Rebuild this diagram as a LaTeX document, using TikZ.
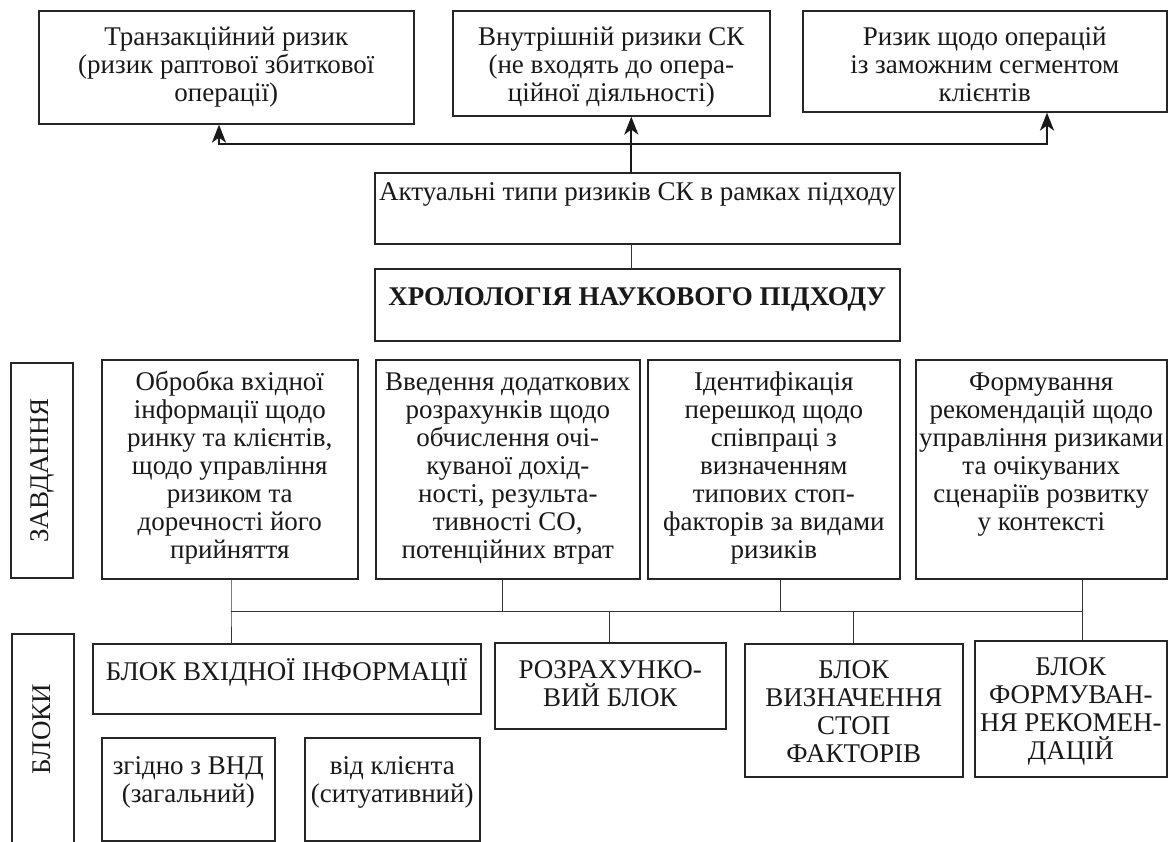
\documentclass[tikz,border=0pt]{standalone}
\usepackage{fontspec}
\setmainfont{Liberation Serif}
\usetikzlibrary{arrows.meta}
\newcommand{\boxtxt}[4]{\parbox[t][#2][t]{#1}{\centering\rule{0pt}{#3}#4}}
\begin{document}
\begin{tikzpicture}[x=1pt,y=-1pt,
  txt/.style={font=\fontsize{27}{28}\selectfont, text=black!90},
  box/.style={txt, draw=black!85, line width=1.6pt, inner sep=0pt, anchor=north west},
  lbl/.style={txt, draw=black!85, line width=1.6pt, inner sep=0pt, rotate=90},
  conn/.style={draw=black!80, line width=0.9pt},
  arr/.style={draw=black!90, line width=2.2pt, line join=miter}]
\fill[white] (0,0) rectangle (1170,842);
\useasboundingbox (0,0) rectangle (1170,842);
\clip (0,0) rectangle (1170,842);
% top row
\node[box] (t1) at (38,10) {\boxtxt{375pt}{113pt}{35pt}{Транзакційний ризик\\(ризик раптової збиткової\\операції)}};
\node[box] (t2) at (452,10) {\boxtxt{317pt}{105pt}{35pt}{Внутрішній ризики СК\\(не входять до опера-\\ційної діяльності)}};
\node[box] (t3) at (802,10) {\boxtxt{364pt}{101pt}{35pt}{Ризик щодо операцій\\із заможним сегментом\\клієнтів}};
\node[box] (act) at (374,172) {\boxtxt{525pt}{71pt}{28pt}{Актуальні типи ризиків СК в рамках підходу}};
\node[box] (hrol) at (374,268) {\boxtxt{525pt}{72pt}{37pt}{\textbf{ХРОЛОЛОГІЯ НАУКОВОГО ПІДХОДУ}}};
% arrows
\coordinate (a1) at (219,144);
\coordinate (a3) at (1047,144);
\coordinate (am) at ([xshift=-6pt]act.north);
\coordinate (as) at ([xshift=-6pt]act.south);
\draw[arr,{Stealth[length=18pt,width=14pt,inset=5pt]}-{Stealth[length=18pt,width=14pt,inset=5pt]}] (a1 |- t1.south) -- (a1) -- (a3) -- (a3 |- t3.south);
\draw[arr,-{Stealth[length=18pt,width=14pt,inset=5pt]}] (am) -- (am |- t2.south);
\draw[conn] (as) -- (as |- hrol.north);
% tasks
\node[lbl, minimum width=215pt, minimum height=62pt] (zav) at (42,470.5) {ЗАВДАННЯ};
\node[box] (task1) at (101,359) {\boxtxt{256pt}{219pt}{31pt}{Обробка вхідної\\інформації щодо\\ринку та клієнтів,\\щодо управління\\ризиком та\\доречності його\\прийняття}};
\node[box] (task2) at (375,359) {\boxtxt{264pt}{219pt}{31pt}{Введення додаткових\\розрахунків щодо\\обчислення очі-\\куваної дохід-\\ності, результа-\\тивності СО,\\потенційних втрат}};
\node[box] (task3) at (647,359) {\boxtxt{252pt}{219pt}{31pt}{Ідентифікація\\перешкод щодо\\співпраці з\\визначенням\\типових стоп-\\факторів за видами\\ризиків}};
\node[box] (task4) at (915,359) {\boxtxt{251pt}{219pt}{31pt}{Формування\\рекомендацій щодо\\управління ризиками\\та очікуваних\\сценаріїв розвитку\\у контексті}};
% blocks
\node[box, minimum width=62pt, minimum height=240pt] (blkbox) at (11,633) {};
\node[txt, rotate=90] (blktxt) at (42,729) {БЛОКИ};
\node[box] (blk1) at (92,643) {\boxtxt{388pt}{70pt}{37pt}{БЛОК ВХІДНОЇ ІНФОРМАЦІЇ}};
\node[box] (rozr) at (494,642) {\boxtxt{231pt}{86pt}{36pt}{РОЗРАХУНКО-\\ВИЙ БЛОК}};
\node[box] (vyzn) at (744,643) {\boxtxt{218pt}{133pt}{35pt}{БЛОК\\ВИЗНАЧЕННЯ\\СТОП\\ФАКТОРІВ}};
\node[box] (form) at (974,640) {\boxtxt{192pt}{136pt}{35pt}{БЛОК\\ФОРМУВАН-\\НЯ РЕКОМЕН-\\ДАЦІЙ}};
\node[box] (zg) at (101,737) {\boxtxt{173pt}{103pt}{37pt}{згідно з ВНД\\(загальний)}};
\node[box] (vk) at (304,737) {\boxtxt{175pt}{103pt}{37pt}{від клієнта\\(ситуативний)}};
% bus
\coordinate (b1) at (231,611);
\coordinate (b2) at (502,611);
\coordinate (b3) at (780,611);
\coordinate (b4) at (1082,611);
\coordinate (d2) at (609,611);
\coordinate (d3) at (853,611);
\draw[conn] (b1) -- (b4);
\draw[conn] (task1.south -| b1) -- (b1) -- (blk1.north -| b1);
\draw[conn] (task2.south -| b2) -- (b2);
\draw[conn] (task3.south -| b3) -- (b3);
\draw[conn] (task4.south -| b4) -- (b4) -- (form.north -| b4);
\draw[conn] (d2) -- (rozr.north -| d2);
\draw[conn] (d3) -- (vyzn.north -| d3);
\end{tikzpicture}
\end{document}
